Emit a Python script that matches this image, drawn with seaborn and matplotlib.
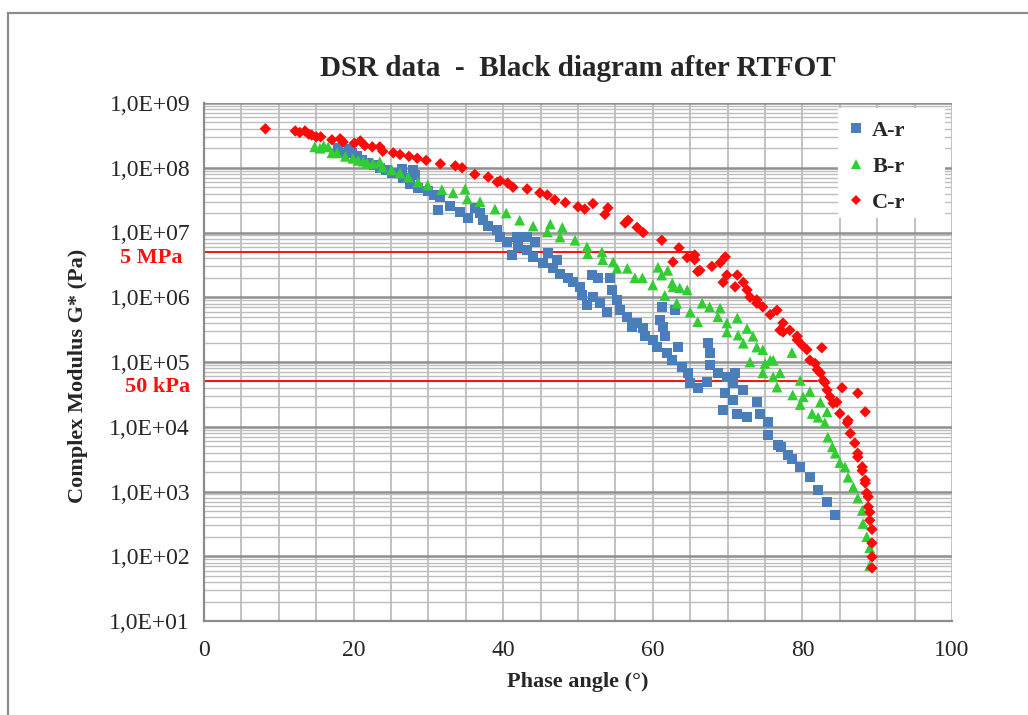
import matplotlib
matplotlib.use("Agg")
import matplotlib.pyplot as plt
from matplotlib.lines import Line2D
from matplotlib.patches import Rectangle
from matplotlib.ticker import MultipleLocator, LogLocator, FixedLocator, FuncFormatter, NullFormatter
import seaborn as sns
import pandas as pd
import numpy as np

# ---------------- data ----------------
series_names = ["A-r", "B-r", "C-r"]

a_phase = [17.9, 18.4, 19.4, 19.8, 20.5, 21.1, 21.9, 22.7, 23.5, 24.3, 25.1, 26.5, 27.9, 28.2,
           26.6, 27.5, 28.6, 29.9, 30.8, 31.6, 31.3, 32.9, 34.2, 35.3, 36.2, 36.9, 37.3, 38.0,
           39.2, 39.6, 40.5, 41.2, 41.8, 42.0, 43.2, 43.2, 44.3, 44.0, 45.3, 46.0, 46.7, 47.2,
           47.6, 48.7, 49.3, 50.3, 50.5, 51.2, 51.9, 52.0, 52.7, 52.9, 53.9, 54.3, 54.5, 55.2,
           55.6, 56.6, 57.2, 57.9, 58.7, 59.0, 60.0, 60.6, 61.2, 61.0, 61.4, 61.6, 61.9, 62.6,
           63.0, 63.4, 63.9, 64.7, 65.0, 66.0, 67.2, 67.4, 67.6, 67.6, 68.7, 69.9, 71.0, 70.7,
           72.1, 69.7, 69.4, 70.7, 71.3, 72.6, 73.9, 74.3, 75.4, 75.4, 76.7, 77.2, 78.1, 78.6,
           79.7, 81.0, 82.1, 83.3, 84.4]
a_g = [2.0e8, 1.7e8, 1.95e8, 1.7e8, 1.5e8, 1.3e8, 1.17e8, 1.1e8, 1.0e8, 9.3e7, 8.3e7, 9.5e7, 9.3e7, 7.8e7,
       6.9e7, 5.6e7, 4.9e7, 4.3e7, 3.8e7, 3.5e7, 2.2e7, 2.6e7, 2.1e7, 1.7e7, 2.4e7, 2.0e7, 1.55e7, 1.26e7,
       1.1e7, 8.5e6, 7.1e6, 4.5e6, 8.5e6, 6.0e6, 8.5e6, 5.4e6, 7.1e6, 4.2e6, 3.4e6, 4.8e6, 2.8e6, 3.8e6,
       2.3e6, 2.0e6, 1.7e6, 1.45e6, 1.07e6, 7.6e5, 2.2e6, 1.0e6, 2.0e6, 8.1e5, 5.9e5, 2.0e6, 1.3e6, 9.1e5,
       6.3e5, 5.0e5, 3.5e5, 4.0e5, 3.3e5, 2.5e5, 2.2e5, 1.7e5, 7.1e5, 4.5e5, 3.5e5, 2.5e5, 1.4e5, 1.07e5,
       6.3e5, 1.7e5, 8.3e4, 6.8e4, 4.8e4, 4.0e4, 4.9e4, 1.95e5, 1.4e5, 8.9e4, 6.8e4, 5.9e4, 6.8e4, 4.8e4,
       3.7e4, 3.3e4, 1.8e4, 2.6e4, 1.6e4, 1.4e4, 2.4e4, 1.6e4, 1.17e4, 7.4e3, 5.2e3, 4.9e3, 3.6e3, 3.2e3,
       2.4e3, 1.66e3, 1.05e3, 6.9e2, 4.4e2]

b_phase = [14.8, 15.5, 16.0, 16.6, 17.1, 17.8, 18.9, 19.9, 20.6, 21.3, 21.8, 22.6, 23.5, 23.9,
           25.1, 26.2, 27.3, 28.6, 29.9, 31.8, 33.3, 34.9, 35.2, 36.9, 38.9, 40.4, 42.2, 44.0,
           45.9, 46.3, 47.6, 47.9, 49.6, 51.2, 51.3, 53.2, 53.3, 54.7, 55.2, 56.6, 57.6, 58.6,
           60.0, 60.7, 61.2, 61.6, 62.0, 62.6, 62.7, 63.2, 63.6, 64.6, 65.0, 66.0, 66.6, 67.6,
           68.7, 69.0, 69.9, 69.9, 71.3, 71.4, 72.1, 72.6, 73.0, 73.4, 73.9, 74.7, 74.7, 75.0,
           75.7, 76.1, 76.1, 76.6, 77.0, 78.6, 78.7, 79.7, 79.7, 80.1, 81.0, 81.3, 82.1, 82.4,
           83.0, 83.3, 83.4, 84.0, 84.4, 85.0, 85.7, 86.1, 86.8, 87.4, 88.0, 88.1, 88.6, 89.0, 89.0]
b_g = [2.1e8, 2.0e8, 2.2e8, 2.1e8, 1.7e8, 1.7e8, 1.5e8, 1.4e8, 1.3e8, 1.26e8, 1.17e8, 1.17e8, 1.23e8, 1.02e8,
       9.3e7, 8.3e7, 7.2e7, 6.0e7, 5.4e7, 4.6e7, 4.1e7, 4.7e7, 3.3e7, 3.0e7, 2.3e7, 2.0e7, 1.55e7, 1.26e7,
       1.02e7, 1.35e7, 8.5e6, 1.2e7, 7.6e6, 6.0e6, 4.7e6, 5.0e6, 3.8e6, 3.5e6, 2.8e6, 2.8e6, 2.0e6, 2.0e6,
       1.55e6, 2.9e6, 2.2e6, 1.07e6, 2.6e6, 1.66e6, 1.45e6, 8.1e5, 1.4e6, 1.3e6, 5.9e5, 4.2e5, 8.1e5, 7.1e5,
       5.0e5, 6.8e5, 4.0e5, 2.9e5, 4.8e5, 2.6e5, 1.95e5, 3.3e5, 1.0e5, 2.5e5, 1.7e5, 1.55e5, 6.8e4, 9.5e4,
       1.07e5, 1.07e5, 5.9e4, 4.1e4, 6.8e4, 1.4e5, 3.1e4, 5.2e4, 2.2e4, 2.9e4, 3.5e4, 1.6e4, 1.4e4, 2.4e4,
       1.15e4, 1.7e4, 6.9e3, 4.9e3, 3.9e3, 2.8e3, 2.4e3, 1.66e3, 1.17e3, 7.9e2, 5.1e2, 3.2e2, 2.0e2, 1.35e2, 7.2e1]

c_phase = [8.2, 12.2, 12.8, 13.5, 14.0, 14.4, 15.0, 15.6, 17.1, 18.2, 18.6, 20.1, 20.9, 21.5,
           22.5, 23.5, 23.9, 25.3, 26.2, 27.4, 28.5, 29.7, 31.6, 33.6, 34.5, 36.2, 38.0, 39.2,
           39.6, 40.6, 41.3, 43.2, 44.9, 45.9, 46.9, 48.3, 50.0, 50.9, 52.0, 53.6, 54.0, 56.3,
           56.7, 57.9, 58.7, 61.2, 62.7, 63.5, 64.6, 65.6, 65.6, 66.0, 66.3, 67.9, 69.0, 69.7,
           69.9, 69.4, 71.3, 72.1, 71.0, 72.6, 73.0, 73.9, 73.9, 74.7, 75.7, 76.6, 77.0, 77.4,
           77.4, 78.3, 79.3, 79.3, 80.0, 80.6, 81.0, 81.7, 82.0, 82.4, 82.6, 82.8, 83.0, 83.3,
           83.7, 84.1, 84.6, 85.0, 85.3, 86.0, 86.1, 86.4, 87.0, 87.4, 87.4, 87.4, 88.0, 88.0,
           88.4, 88.4, 88.4, 88.6, 88.8, 88.8, 89.0, 89.0, 89.3, 89.3, 89.3, 89.3]
c_g = [4.0e8, 3.7e8, 3.5e8, 3.7e8, 3.3e8, 3.2e8, 3.0e8, 3.0e8, 2.7e8, 2.8e8, 2.5e8, 2.4e8, 2.6e8, 2.2e8,
       2.1e8, 2.1e8, 1.8e8, 1.7e8, 1.6e8, 1.5e8, 1.4e8, 1.3e8, 1.15e8, 1.07e8, 1.0e8, 7.9e7, 7.2e7, 6.0e7,
       6.3e7, 5.8e7, 5.0e7, 4.7e7, 4.1e7, 3.8e7, 3.2e7, 2.9e7, 2.5e7, 2.3e7, 2.8e7, 1.9e7, 2.4e7, 1.4e7,
       1.55e7, 1.2e7, 1.0e7, 7.6e6, 3.5e6, 5.8e6, 4.1e6, 4.5e6, 3.8e6, 2.5e6, 2.6e6, 3.0e6, 3.4e6, 4.2e6,
       2.2e6, 1.7e6, 2.2e6, 1.7e6, 1.45e6, 1.3e6, 1.0e6, 9.1e5, 8.1e5, 7.1e5, 5.4e5, 6.3e5, 3.1e5, 4.0e5,
       2.9e5, 3.1e5, 2.5e5, 2.2e5, 1.8e5, 1.55e5, 1.07e5, 9.5e4, 7.6e4, 6.8e4, 1.66e5, 5.2e4, 4.8e4, 3.7e4,
       2.9e4, 2.3e4, 2.4e4, 1.6e4, 4.0e4, 1.15e4, 1.26e4, 7.9e3, 5.6e3, 3.3e4, 3.9e3, 3.4e3, 2.4e3, 2.1e3,
       1.7e4, 1.5e3, 1.35e3, 9.5e2, 8.3e2, 5.8e2, 4.8e2, 3.6e2, 2.6e2, 1.6e2, 9.8e1, 6.6e1]

# reference criteria lines
ref_labels = ["5 MPa", "50 kPa"]
ref_levels = [5e6, 5e4]
ref_end_phase = [65.4, 82.0]

x_ticks = [0, 20, 40, 60, 80, 100]
title_text = "DSR data  -  Black diagram after RTFOT"
x_label = "Phase angle (°)"
y_label = "Complex Modulus G* (Pa)"

# ---------------- styling ----------------
colors = {"A-r": "#4A7EBB", "B-r": "#33CC33", "C-r": "#FF0A0A"}
markers = {"A-r": "s", "B-r": "^", "C-r": "D"}
sizes = {"A-r": 52, "B-r": 60, "C-r": 34}

sns.set_style("white")
plt.rcParams["font.family"] = ["Liberation Serif", "DejaVu Serif"]

df = pd.concat([
    pd.DataFrame({"phase": a_phase, "G": a_g, "series": "A-r"}),
    pd.DataFrame({"phase": b_phase, "G": b_g, "series": "B-r"}),
    pd.DataFrame({"phase": c_phase, "G": c_g, "series": "C-r"}),
], ignore_index=True)

fig = plt.figure(figsize=(10.28, 7.15), dpi=100)
fig.patch.set_facecolor("white")
ax = fig.add_axes([204 / 1028, 1 - 621 / 715, 748 / 1028, 518 / 715])

# frame around the chart
fig.patches.append(Rectangle((8 / 1028, -0.05), 1.2, 1 - 13 / 715 + 0.05,
                             transform=fig.transFigure, fill=False,
                             edgecolor="#8c8c8c", linewidth=1.6, zorder=0))

ax.set_yscale("log")
ax.set_xlim(0, 100)
ax.set_ylim(1e1, 1e9)

# grid
ax.xaxis.set_major_locator(FixedLocator(x_ticks))
ax.xaxis.set_minor_locator(MultipleLocator(5))
ax.yaxis.set_major_locator(LogLocator(base=10, numticks=20))
ax.yaxis.set_minor_locator(LogLocator(base=10, subs=np.arange(2, 10), numticks=20))
ax.yaxis.set_minor_formatter(NullFormatter())
ax.grid(which="major", axis="y", color="#8f8f8f", linewidth=1.8, zorder=0)
ax.grid(which="minor", axis="y", color="#bdbdbd", linewidth=1.0, zorder=0)
ax.grid(which="both", axis="x", color="#bdbdbd", linewidth=1.3, zorder=0)
ax.set_axisbelow(True)

# white legend area (covers the grid like the original)
ax.add_patch(Rectangle(((838 - 204) / 748, (621 - 218) / 518), 107 / 748, 110 / 518,
                       transform=ax.transAxes, facecolor="white", edgecolor="none", zorder=1.5))

for series in series_names:
    sub = df[df["series"] == series]
    sns.scatterplot(data=sub, x="phase", y="G", ax=ax, color=colors[series],
                    marker=markers[series], s=sizes[series], edgecolor="none",
                    linewidth=0, legend=False, zorder=3)

for lab, lev, end in zip(ref_labels, ref_levels, ref_end_phase):
    ax.plot([0, end], [lev, lev], color="#FF0000", linewidth=1.3, zorder=2)

ax.annotate(ref_labels[0], xy=(0, ref_levels[0]), xycoords=("axes fraction", "data"),
            xytext=(-21, -6), textcoords="offset pixels", ha="right", va="center",
            color="#FF1010", fontsize=16, fontweight="bold", annotation_clip=False)
ax.annotate(ref_labels[1], xy=(0, ref_levels[1]), xycoords=("axes fraction", "data"),
            xytext=(-14, -6), textcoords="offset pixels", ha="right", va="center",
            color="#FF1010", fontsize=16, fontweight="bold", annotation_clip=False)

# spines / ticks
for s in ["left", "bottom"]:
    ax.spines[s].set_color("#8c8c8c")
    ax.spines[s].set_linewidth(1.6)
for s in ["top", "right"]:
    ax.spines[s].set_visible(False)

ax.tick_params(axis="both", which="major", direction="out", length=7, width=1.5,
               color="#8c8c8c", labelsize=17, pad=3)
ax.tick_params(axis="x", which="major", pad=7)
ax.tick_params(axis="both", which="minor", length=0)
ax.yaxis.set_major_formatter(FuncFormatter(lambda v, p: "1,0E+%02d" % int(round(np.log10(v)))))

ax.set_xlabel(x_label, fontsize=16, fontweight="bold")
ax.set_ylabel(y_label, fontsize=16, fontweight="bold")
ax.xaxis.set_label_coords(0.5, -0.098)
ax.yaxis.set_label_coords(-0.155, 0.473)

fig.text(578 / 1028, 1 - 68 / 715, title_text, ha="center", va="center",
         fontsize=21, fontweight="bold")

# legend
handles = [Line2D([0], [0], linestyle="none", marker=markers[s], color=colors[s],
                  markeredgewidth=0, markersize=7 if s != "C-r" else 5.5) for s in series_names]
leg = ax.legend(handles, series_names, loc="upper left",
                bbox_to_anchor=((840 - 204) / 748, (621 - 114) / 518),
                borderaxespad=0, frameon=False, handlelength=0.8, handletextpad=0.35,
                labelspacing=0.68, borderpad=0.3,
                prop={"family": ["Liberation Serif"], "weight": "bold", "size": 16})
leg.set_zorder(5)

fig.savefig("out.png", dpi=100, facecolor="white")
